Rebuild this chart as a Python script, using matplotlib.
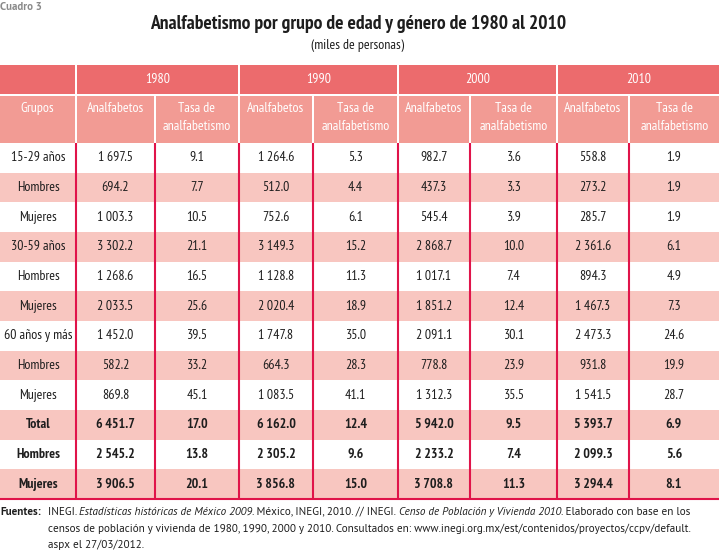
import matplotlib

matplotlib.use("Agg")

import matplotlib.pyplot as plt
from matplotlib.patches import Rectangle

COND = ["PT Sans Narrow", "Roboto Condensed", "DejaVu Sans"]
BODY = ["PT Sans", "Liberation Sans", "DejaVu Sans"]

years = ["1980", "1990", "2000", "2010"]
groups = ["15-29 años", "Hombres", "Mujeres", "30-59 años", "Hombres", "Mujeres",
          "60 años y más", "Hombres", "Mujeres", "Total", "Hombres", "Mujeres"]
bold_rows = [9, 10, 11]

analf_1980 = [1697.5, 694.2, 1003.3, 3302.2, 1268.6, 2033.5, 1452.0, 582.2, 869.8, 6451.7, 2545.2, 3906.5]
tasa_1980 = [9.1, 7.7, 10.5, 21.1, 16.5, 25.6, 39.5, 33.2, 45.1, 17.0, 13.8, 20.1]
analf_1990 = [1264.6, 512.0, 752.6, 3149.3, 1128.8, 2020.4, 1747.8, 664.3, 1083.5, 6162.0, 2305.2, 3856.8]
tasa_1990 = [5.3, 4.4, 6.1, 15.2, 11.3, 18.9, 35.0, 28.3, 41.1, 12.4, 9.6, 15.0]
analf_2000 = [982.7, 437.3, 545.4, 2868.7, 1017.1, 1851.2, 2091.1, 778.8, 1312.3, 5942.0, 2233.2, 3708.8]
tasa_2000 = [3.6, 3.3, 3.9, 10.0, 7.4, 12.4, 30.1, 23.9, 35.5, 9.5, 7.4, 11.3]
analf_2010 = [558.8, 273.2, 285.7, 2361.6, 894.3, 1467.3, 2473.3, 931.8, 1541.5, 5393.7, 2099.3, 3294.4]
tasa_2010 = [1.9, 1.9, 1.9, 6.1, 4.9, 7.3, 24.6, 19.9, 28.7, 6.9, 5.6, 8.1]

columns = [analf_1980, tasa_1980, analf_1990, tasa_1990,
           analf_2000, tasa_2000, analf_2010, tasa_2010]

# column edges in pixels
edges = [0, 76, 155, 239, 313, 398, 470, 557, 629, 719]
hdr1_top, hdr1_bot = 65, 94
hdr2_top, hdr2_bot = 96, 143
body_bot = 499
row_h = (body_bot - hdr2_bot) / len(groups)

DARK = "#ec6b6d"
LIGHT = "#f29b94"
PINK = "#f8c6c0"
RED = "#e0144a"
INK = "#1e1e1e"


def fmt_thousands(v):
    return f"{v:,.1f}".replace(",", "\u2009")


fig = plt.figure(figsize=(7.19, 5.51), dpi=100)
ax = fig.add_axes([0, 0, 1, 1])
ax.set_xlim(0, 719)
ax.set_ylim(551, 0)
ax.axis("off")

ax.text(0, 7, "Cuadro 3", fontsize=7.8, fontweight="bold", color="#8a8a8a",
        family=BODY, va="center", ha="left")
ax.text(358, 24, "Analfabetismo por grupo de edad y género de 1980 al 2010",
        fontsize=14, fontweight="bold", family=COND, ha="center", va="center",
        color=INK)
ax.text(358, 45, "(miles de personas)", fontsize=10, family=COND,
        ha="center", va="center", color=INK)

# header row 1
ax.add_patch(Rectangle((0, hdr1_top), edges[1] - 1, hdr1_bot - hdr1_top,
                       color=DARK, lw=0))
for i, y in enumerate(years):
    x0 = edges[1 + 2 * i] + 1
    x1 = edges[3 + 2 * i] - 1 if 3 + 2 * i < len(edges) - 1 else edges[-1]
    ax.add_patch(Rectangle((x0, hdr1_top), x1 - x0, hdr1_bot - hdr1_top,
                           color=DARK, lw=0))
    ax.text((x0 + x1) / 2, (hdr1_top + hdr1_bot) / 2, y, color="white",
            fontsize=10, family=COND, ha="center", va="center")

# header row 2
sub = ["Grupos"] + ["Analfabetos", "Tasa de\nanalfabetismo"] * 4
for j, label in enumerate(sub):
    x0 = edges[j] + (1 if j else 0)
    x1 = edges[j + 1] - 1 if j + 1 < len(edges) - 1 else edges[-1]
    ax.add_patch(Rectangle((x0, hdr2_top), x1 - x0, hdr2_bot - hdr2_top,
                           color=LIGHT, lw=0))
    ax.text((x0 + x1) / 2, hdr2_top + 6, label, color="white", fontsize=10,
            family=COND, ha="center", va="top", linespacing=1.5)

# body
for r, g in enumerate(groups):
    y0 = hdr2_bot + r * row_h
    yc = y0 + row_h / 2
    if r % 2 == 1:
        ax.add_patch(Rectangle((0, y0), edges[-1], row_h, color=PINK, lw=0))
    weight = "bold" if r in bold_rows else "normal"
    ax.text((edges[0] + edges[1]) / 2, yc, g, fontsize=10, family=COND,
            fontweight=weight, ha="center", va="center", color=INK)
    for c, col in enumerate(columns):
        txt = fmt_thousands(col[r]) if c % 2 == 0 else f"{col[r]:.1f}"
        ax.text((edges[c + 1] + edges[c + 2]) / 2, yc, txt, fontsize=10,
                family=COND, fontweight=weight, ha="center", va="center",
                color=INK)

for x in edges[1:-1]:
    ax.plot([x, x], [hdr2_bot, body_bot], color=RED, lw=1.5,
            solid_capstyle="butt")
ax.plot([0, edges[-1]], [body_bot, body_bot], color=RED, lw=1.5)

# footer with mixed styles
fig.canvas.draw()
renderer = fig.canvas.get_renderer()
inv = ax.transData.inverted()


def runs(x, y, parts, size=8.0):
    for text, style in parts:
        t = ax.text(x, y, text, fontsize=size, family=BODY, ha="left",
                    va="center", color=INK,
                    fontstyle="italic" if style == "i" else "normal",
                    fontweight="bold" if style == "b" else "normal")
        bb = t.get_window_extent(renderer=renderer)
        x = inv.transform((bb.x1, bb.y0))[0]


runs(0, 512, [("Fuentes:", "b")])
runs(48, 512, [("INEGI. ", "n"),
               ("Estadísticas históricas de México 2009", "i"),
               (". México, INEGI, 2010. // INEGI. ", "n"),
               ("Censo de Población y Vivienda 2010", "i"),
               (". Elaborado con base en los", "n")])
runs(48, 529, [("censos de población y vivienda de 1980, 1990, 2000 y 2010. "
                "Consultados en: www.inegi.org.mx/est/contenidos/proyectos/ccpv/default.", "n")])
runs(48, 545, [("aspx el 27/03/2012.", "n")])

fig.savefig("out.png", dpi=100)
plt.close(fig)
